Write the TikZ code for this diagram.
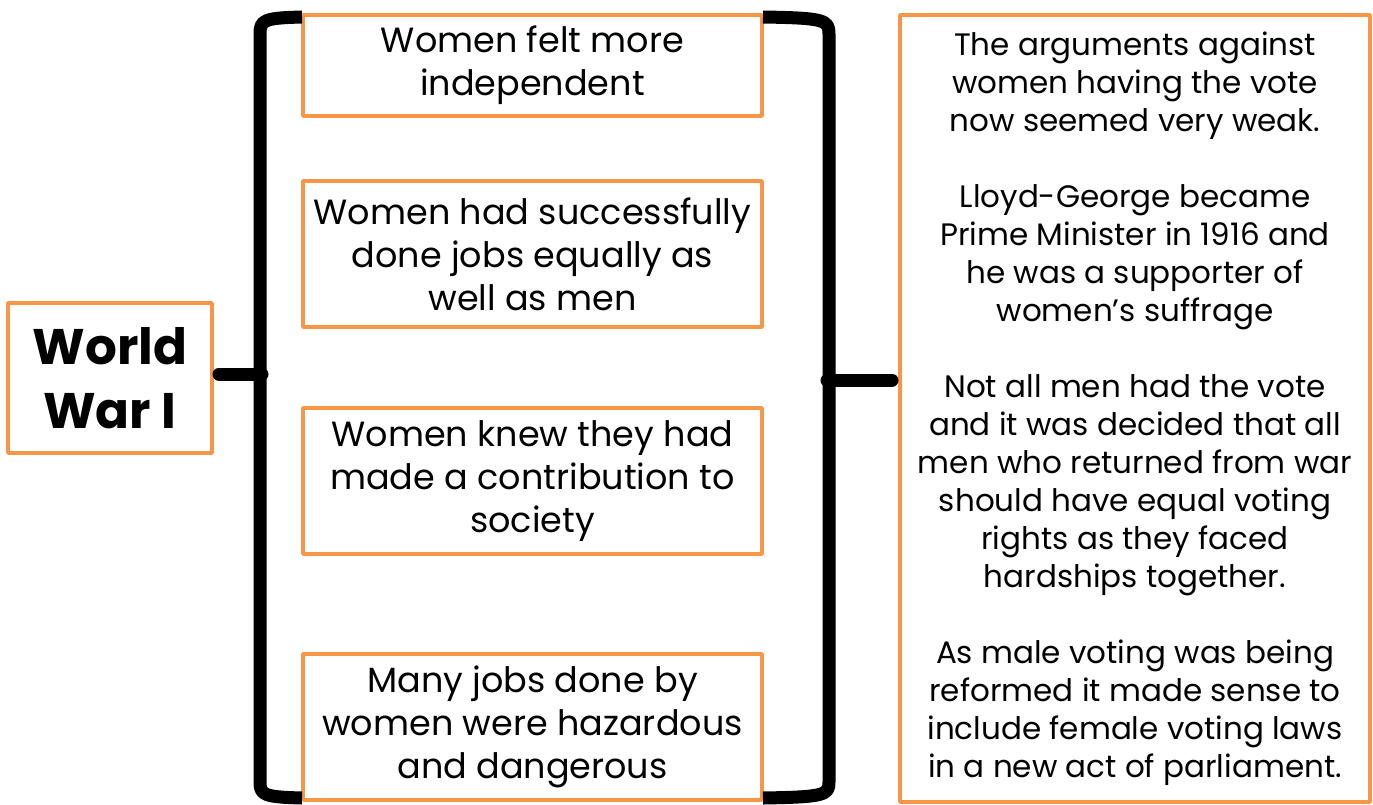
\documentclass[tikz,border=0pt]{standalone}
\usepackage{fontspec}
\setmainfont{Poppins}
\definecolor{accent}{HTML}{F79646}

\begin{document}
\begin{tikzpicture}[x=1pt, y=-1pt, line join=round,
    box/.style={draw=accent, line width=3.5pt, align=center, inner sep=0pt},
    reason/.style={box, minimum width=459pt, font=\fontsize{35}{43}\selectfont},
    brace/.style={line width=13pt}]
  \useasboundingbox (0,0) rectangle (1373,805);

  % the cause on the left
  \node[box, minimum width=204pt, minimum height=150pt,
        font=\bfseries\fontsize{50}{64}\selectfont] (war) at (110,378) {World\\War I};

  % the four effects in the middle column
  \foreach \name/\y/\h/\txt in {
      indep/65.5/101/{Women felt more\\independent},
      jobs/254/146/{Women had successfully\\done jobs equally as\\well as men},
      contrib/481/146/{Women knew they had\\made a contribution to\\society},
      hazard/727/146/{Many jobs done by\\women were hazardous\\and dangerous}}
    \node[reason, minimum height=\h pt] (\name) at (532.5,\y) {\txt};

  % what followed, on the right
  \node[box, minimum width=470pt, minimum height=787pt,
        font=\fontsize{31}{38}\selectfont] (result) at (1135,408.5)
    {The arguments against\\women having the vote\\now seemed very weak.\\[38pt]
     Lloyd-George became\\Prime Minister in 1916 and\\he was a supporter of\\women's suffrage\\[38pt]
     Not all men had the vote\\and it was decided that all\\men who returned from war\\should have equal voting\\rights as they faced\\hardships together.\\[38pt]
     As male voting was being\\reformed it made sense to\\include female voting laws\\in a new act of parliament.};

  % left brace
  \draw[brace] (302,17) .. controls (264,18) and (260,20) .. (260,34)
    -- (260,782) .. controls (260,795) and (264,797) .. (302,798);
  \draw[brace, line cap=round] (219,374) -- (262,374);
  % right brace
  \draw[brace] (763,17) .. controls (825,18) and (829,20) .. (829,34)
    -- (829,782) .. controls (829,795) and (825,797) .. (763,798);
  \draw[brace, line cap=round] (827,380) -- (892,380);
\end{tikzpicture}
\end{document}
